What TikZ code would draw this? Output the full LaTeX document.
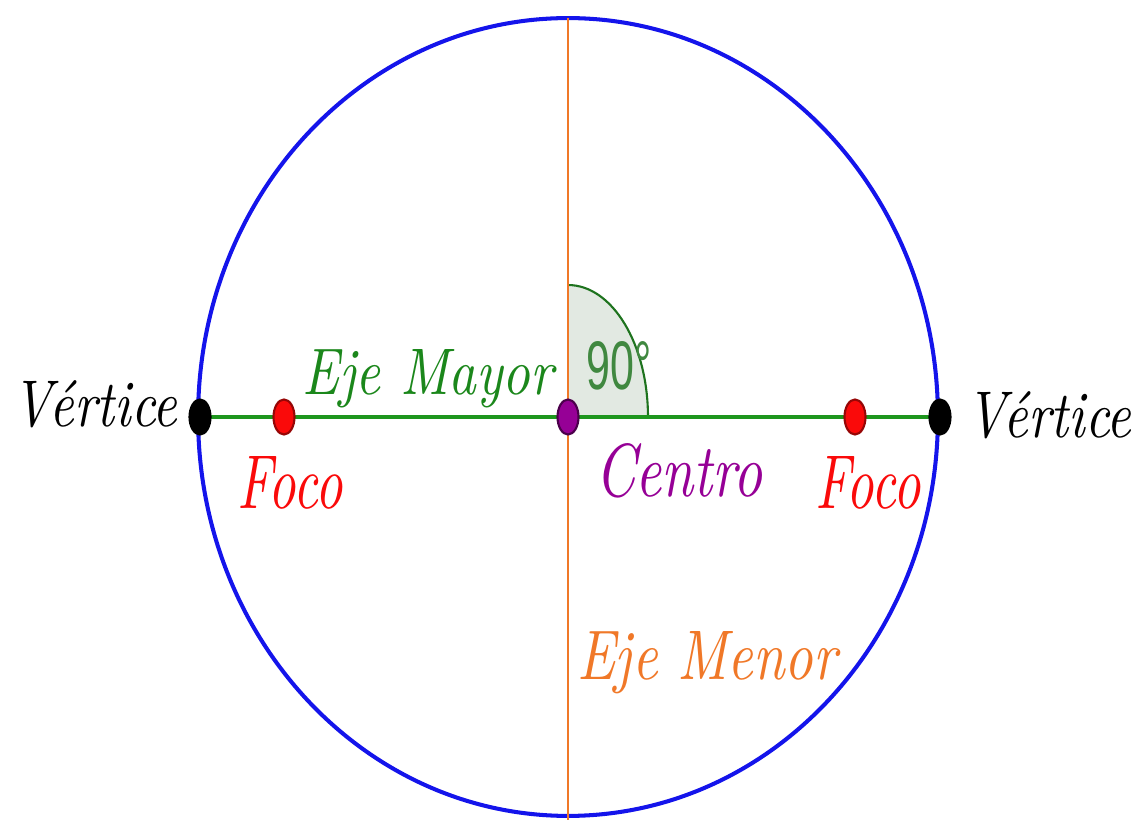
\documentclass[tikz,border=0pt]{standalone}
\usepackage{fontspec}
\usepackage{graphicx}
\usetikzlibrary{shapes.geometric}
\newfontfamily\gradfont{Liberation Sans}
\definecolor{elipazul}{RGB}{20,20,235}
\definecolor{ejenaranja}{RGB}{240,120,40}
\definecolor{ejeverde}{RGB}{30,150,30}
\definecolor{arcoverde}{RGB}{30,115,30}
\definecolor{rellenoang}{RGB}{226,233,226}
\definecolor{focorojo}{RGB}{250,10,10}
\definecolor{centromorado}{RGB}{150,0,150}

\begin{document}
\begin{tikzpicture}[x=0.02cm, y=-0.02cm,
    dot/.style={ellipse, draw, line width=1.2pt, inner sep=0pt, minimum width=0.42cm, minimum height=0.7cm},
    lbl/.style={font=\itshape, anchor=base, inner sep=0pt}]
    \useasboundingbox (0,0) rectangle (1137,820);
    \coordinate (c) at (568,417);
    \coordinate (vL) at (200,417);
    \coordinate (vR) at (940,417);
    \coordinate (fL) at (284,417);
    \coordinate (fR) at (855,417);
    \coordinate (top) at (568,18);
    \coordinate (bot) at (568,820);
    % angle mark
    \fill[rellenoang] (c) -- ++(1.6cm,0) arc[start angle=0, end angle=90, x radius=1.6cm, y radius=2.64cm] -- cycle;
    \draw[arcoverde, line width=1.2pt] (c) ++(1.6cm,0) arc[start angle=0, end angle=90, x radius=1.6cm, y radius=2.64cm];
    % curve and axes
    \draw[elipazul, line width=2.3pt] (c) ellipse[x radius=7.4cm, y radius=7.98cm];
    \draw[ejenaranja, line width=1.7pt] (top) -- (bot);
    \draw[ejeverde, line width=2.8pt] (vL) -- (vR);
    \node[dot, fill=black, draw=black] (pvL) at (vL) {};
    \node[dot, fill=black, draw=black] (pvR) at (vR) {};
    \node[dot, fill=focorojo, draw=focorojo!60!black] (pfL) at (fL) {};
    \node[dot, fill=focorojo, draw=focorojo!60!black] (pfR) at (fR) {};
    \node[dot, fill=centromorado, draw=centromorado!50!black] (pc) at (c) {};
    % labels
    \node[lbl, black] (tvL) at (95,427) {\resizebox{3.3cm}{0.92cm}{Vértice}};
    \node[lbl, black] (tvR) at (1049,438) {\resizebox{3.3cm}{0.92cm}{Vértice}};
    \node[lbl, focorojo] (tfL) at (290,509) {\resizebox{2.1cm}{1.04cm}{Foco}};
    \node[lbl, focorojo] (tfR) at (868,509) {\resizebox{2.1cm}{1.04cm}{Foco}};
    \node[lbl, ejeverde!90!black] (tmay) at (428,395) {\resizebox{5.02cm}{0.9cm}{Eje Mayor}};
    \node[lbl, centromorado] (tcen) at (679,497) {\resizebox{3.36cm}{1.06cm}{Centro}};
    \node[lbl, ejenaranja] (tmen) at (707,680) {\resizebox{5.2cm}{0.96cm}{Eje Menor}};
    \node[anchor=base, inner sep=0pt, arcoverde!85, font=\gradfont] (tang) at (619,390) {\resizebox{1.3cm}{0.96cm}{90°}};
\end{tikzpicture}
\end{document}
